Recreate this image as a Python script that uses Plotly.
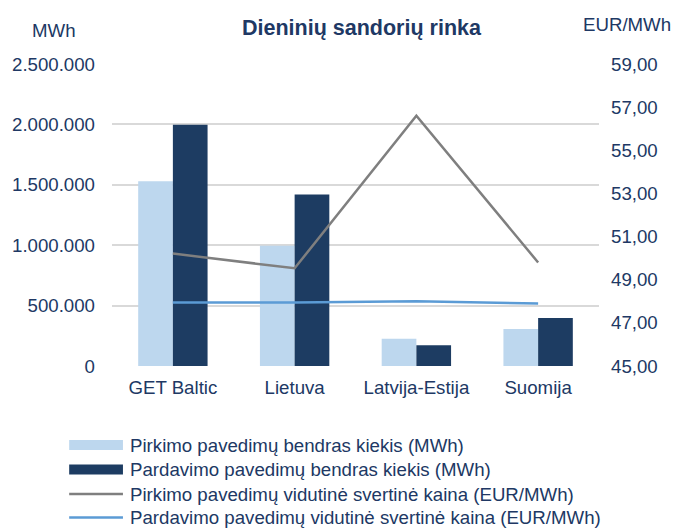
import plotly.graph_objects as go

categories = ["GET Baltic", "Lietuva", "Latvija-Estija", "Suomija"]
pirkimo_kiekis = [1529000, 995000, 226000, 306000]
pardavimo_kiekis = [1998000, 1419000, 171000, 397000]
pirkimo_kaina = [50.21, 49.53, 56.60, 49.80]
pardavimo_kaina = [47.94, 47.94, 48.00, 47.90]

legend_names = [
    "Pirkimo pavedimų bendras kiekis (MWh)",
    "Pardavimo pavedimų bendras kiekis (MWh)",
    "Pirkimo pavedimų vidutinė svertinė kaina (EUR/MWh)",
    "Pardavimo pavedimų vidutinė svertinė kaina (EUR/MWh)",
]

C_LIGHT = "#BDD7EE"
C_DARK = "#1D3C62"
C_GRAY = "#7F7F7F"
C_BLUE = "#5B9BD5"
C_TEXT = "#203864"
FONT = "Arial, Liberation Sans, sans-serif"
FS = 18.67

W, H = 674, 529
L, R, T, B = 110, 75, 64, 163
PW, PH = W - L - R, H - T - B

fig = go.Figure()
fig.add_trace(go.Bar(x=categories, y=pirkimo_kiekis, name=legend_names[0],
                     marker=dict(color=C_LIGHT, line=dict(width=0))))
fig.add_trace(go.Bar(x=categories, y=pardavimo_kiekis, name=legend_names[1],
                     marker=dict(color=C_DARK, line=dict(width=0))))
fig.add_trace(go.Scatter(x=categories, y=pirkimo_kaina, name=legend_names[2], yaxis="y2",
                         mode="lines", line=dict(color=C_GRAY, width=2.5)))
fig.add_trace(go.Scatter(x=categories, y=pardavimo_kaina, name=legend_names[3], yaxis="y2",
                         mode="lines", line=dict(color=C_BLUE, width=2.5)))

def px(x):
    return (x - L) / PW

def py(y):
    return (H - B - y) / PH

shapes = []
annotations = []
rows = [445, 469.5, 494, 517.5]
styles = [("bar", C_LIGHT), ("bar", C_DARK), ("line", C_GRAY), ("line", C_BLUE)]
for (kind, col), yy, name in zip(styles, rows, legend_names):
    if kind == "bar":
        shapes.append(dict(type="rect", xref="paper", yref="paper",
                           x0=px(67), x1=px(121), y0=py(yy + 5), y1=py(yy - 5),
                           fillcolor=col, line=dict(width=0)))
    else:
        shapes.append(dict(type="line", xref="paper", yref="paper",
                           x0=px(67), x1=px(121), y0=py(yy), y1=py(yy),
                           line=dict(color=col, width=2.5)))
    annotations.append(dict(text=name, xref="paper", yref="paper", x=px(126), y=py(yy),
                            xanchor="left", yanchor="middle", showarrow=False,
                            font=dict(family=FONT, size=FS, color=C_TEXT)))

annotations.append(dict(text="MWh", xref="paper", yref="paper", x=px(52), y=py(30),
                        xanchor="center", yanchor="middle", showarrow=False,
                        font=dict(family=FONT, size=FS, color=C_TEXT)))
annotations.append(dict(text="EUR/MWh", xref="paper", yref="paper", x=px(627), y=py(24),
                        xanchor="center", yanchor="middle", showarrow=False,
                        font=dict(family=FONT, size=FS, color=C_TEXT)))
annotations.append(dict(text="<b>Dieninių sandorių rinka</b>", xref="paper", yref="paper",
                        x=px(361), y=py(28), xanchor="center", yanchor="middle", showarrow=False,
                        font=dict(family=FONT, size=21.5, color=C_TEXT)))

fig.update_layout(
    width=W, height=H,
    margin=dict(l=L, r=R, t=T, b=B),
    paper_bgcolor="white", plot_bgcolor="white",
    separators=",.",
    barmode="group", bargap=0.43, bargroupgap=0,
    showlegend=False,
    font=dict(family=FONT, size=FS, color=C_TEXT),
    xaxis=dict(showgrid=False, showline=False, zeroline=False, ticks="",
               tickfont=dict(size=FS, color=C_TEXT), ticklabelstandoff=8),
    yaxis=dict(range=[0, 2500000], dtick=500000, tick0=0, tickformat=",.0f",
               showgrid=True, gridcolor="#D9D9D9", gridwidth=1.5,
               zeroline=False, showline=False, ticks="",
               tickfont=dict(size=FS, color=C_TEXT), ticklabelstandoff=16),
    yaxis2=dict(range=[45, 59], dtick=2, tick0=45, tickformat=".2f", overlaying="y", side="right",
                showgrid=False, zeroline=False, showline=False, ticks="",
                tickfont=dict(size=FS, color=C_TEXT), ticklabelstandoff=11),
    shapes=shapes, annotations=annotations,
)

fig.write_html("out.html", config={"displayModeBar": False},
               post_script="document.body.style.margin='0';")
